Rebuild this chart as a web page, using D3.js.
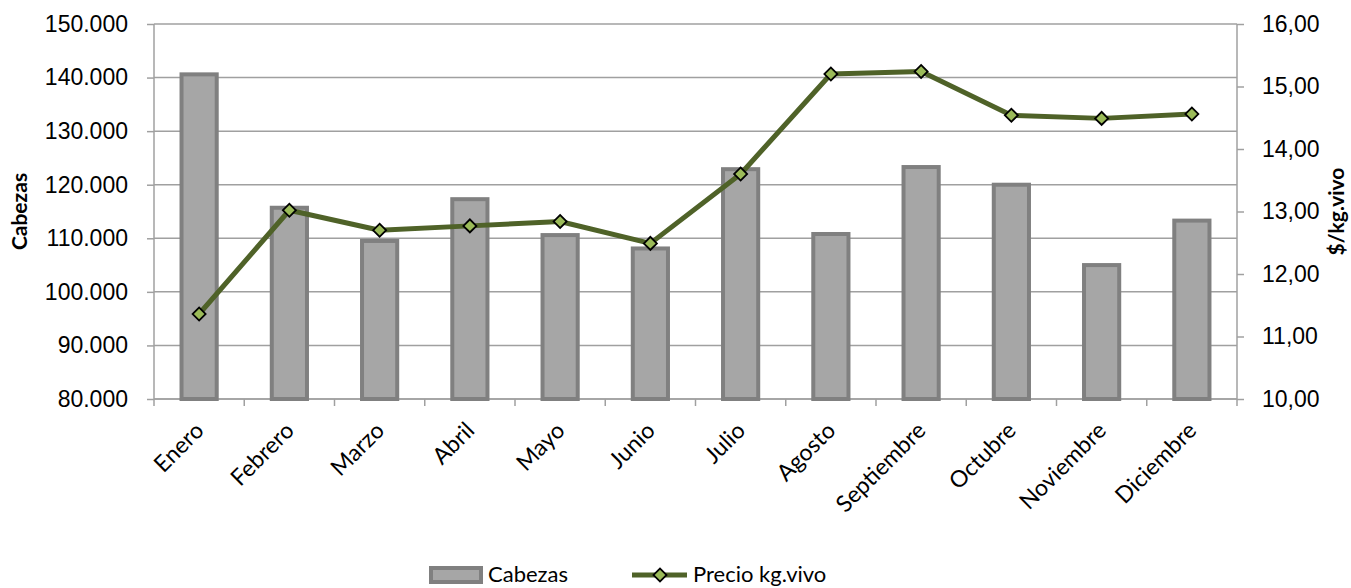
<!DOCTYPE html>
<html>
<head>
<meta charset="utf-8">
<script src="https://cdn.jsdelivr.net/npm/d3@7"></script>
<style>
  body { margin: 0; background: #fff; }
  svg { font-family: Lato, "Open Sans", sans-serif; }
</style>
</head>
<body>
<div id="chart"></div>
<script>
// Data
const months = ['Enero', 'Febrero', 'Marzo', 'Abril', 'Mayo', 'Junio',
  'Julio', 'Agosto', 'Septiembre', 'Octubre', 'Noviembre', 'Diciembre'];
const cabezas = [140600, 115700, 109500, 117300, 110600, 108100,
  122900, 110800, 123300, 120000, 105000, 113300];
const precio = [11.36, 13.02, 12.70, 12.77, 12.84, 12.49,
  13.60, 15.20, 15.24, 14.54, 14.49, 14.56];
const leftTicks = [80000, 90000, 100000, 110000, 120000, 130000, 140000, 150000];
const rightTicks = [10, 11, 12, 13, 14, 15, 16];

// Base positioning
const W = 1351, H = 588;
const margin = { top: 24, bottom: 189, left: 154, right: 114 },
  width = W - margin.left - margin.right,
  height = H - margin.top - margin.bottom;

const locale = d3.formatLocale({ decimal: ',', thousands: '.', grouping: [3], currency: ['$', ''] });
const fmtLeft = locale.format(',.0f');
const fmtRight = locale.format('.2f');

const gridColor = '#a0a0a0';

const svg = d3.select('#chart')
  .append('svg')
  .attr('width', W)
  .attr('height', H);

const g = svg.append('g')
  .attr('transform', 'translate(' + margin.left + ',' + margin.top + ')');

// scales
const x = d3.scaleBand()
  .domain(months)
  .range([0, width])
  .paddingInner(0.61)
  .paddingOuter(0.305);

const y = d3.scaleLinear()
  .domain([80000, 150000])
  .range([height, 0]);

const y2 = d3.scaleLinear()
  .domain([10, 16])
  .range([height, 0]);

// gridlines
g.append('g')
  .selectAll('line')
  .data(leftTicks)
  .enter()
  .append('line')
  .attr('x1', 0)
  .attr('x2', width)
  .attr('y1', d => y(d))
  .attr('y2', d => y(d))
  .attr('stroke', gridColor)
  .attr('stroke-width', 1.5);

// Y axis left
const yAxis = g.append('g')
  .call(d3.axisLeft(y).tickValues(leftTicks).tickFormat(fmtLeft).tickSize(7).tickPadding(19));
yAxis.select('.domain').remove();
yAxis.append('line')
  .attr('x1', 0).attr('x2', 0).attr('y1', 0).attr('y2', height + 7)
  .attr('stroke', gridColor).attr('stroke-width', 1.5);

// Y axis right
const yAxis2 = g.append('g')
  .attr('transform', 'translate(' + width + ',0)')
  .call(d3.axisRight(y2).tickValues(rightTicks).tickFormat(fmtRight).tickSize(7).tickPadding(18));
yAxis2.select('.domain').remove();
yAxis2.append('line')
  .attr('x1', 0).attr('x2', 0).attr('y1', 0).attr('y2', height + 7)
  .attr('stroke', gridColor).attr('stroke-width', 1.5);

[yAxis, yAxis2].forEach(a => {
  a.selectAll('.tick line').attr('stroke', gridColor).attr('stroke-width', 1.5);
  a.selectAll('.tick text').attr('fill', '#000').style('font-size', '23px');
});

// X axis
g.append('line')
  .attr('x1', 0).attr('x2', width).attr('y1', height).attr('y2', height)
  .attr('stroke', gridColor).attr('stroke-width', 1.5);
g.append('g')
  .selectAll('line')
  .data(months.slice(1))
  .enter()
  .append('line')
  .attr('x1', d => x(d) - x.step() * x.paddingInner() / 2)
  .attr('x2', d => x(d) - x.step() * x.paddingInner() / 2)
  .attr('y1', height)
  .attr('y2', height + 7)
  .attr('stroke', gridColor)
  .attr('stroke-width', 1.5);

g.append('g')
  .selectAll('text')
  .data(months)
  .enter()
  .append('text')
  .attr('transform', d => 'translate(' + (x(d) + x.bandwidth() / 2 + 6) + ',' + (height + 33) + ') rotate(-45)')
  .attr('text-anchor', 'end')
  .style('font-size', '23px')
  .text(d => d);

// bars
g.selectAll('.bar')
  .data(months)
  .enter()
  .append('rect')
  .attr('class', 'bar')
  .attr('x', d => x(d))
  .attr('width', x.bandwidth())
  .attr('y', (d, i) => y(cabezas[i]))
  .attr('height', (d, i) => height - y(cabezas[i]))
  .attr('fill', '#a6a6a6')
  .attr('stroke', '#808080')
  .attr('stroke-width', 4);

// line
const line = d3.line()
  .x((d, i) => x(months[i]) + x.bandwidth() / 2)
  .y(d => y2(d));
g.append('path')
  .datum(precio)
  .attr('fill', 'none')
  .attr('stroke', '#4f6228')
  .attr('stroke-width', 5)
  .attr('stroke-linejoin', 'round')
  .attr('d', line);

const diamond = d3.symbol().type(d3.symbolSquare).size(85);
g.selectAll('.marker')
  .data(precio)
  .enter()
  .append('path')
  .attr('class', 'marker')
  .attr('d', diamond)
  .attr('transform', (d, i) => 'translate(' + (x(months[i]) + x.bandwidth() / 2) + ',' + y2(d) + ') rotate(45)')
  .attr('fill', '#9bbb59')
  .attr('stroke', '#000')
  .attr('stroke-width', 1.8);

// axis titles
svg.append('text')
  .attr('transform', 'translate(27,' + (margin.top + height / 2) + ') rotate(-90)')
  .attr('text-anchor', 'middle')
  .style('font-size', '21px')
  .style('font-weight', 'bold')
  .text('Cabezas');

svg.append('text')
  .attr('transform', 'translate(1344,' + (margin.top + height / 2) + ') rotate(-90)')
  .attr('text-anchor', 'middle')
  .style('font-size', '21px')
  .style('font-weight', 'bold')
  .text('$/kg.vivo');

// legend
const legend = svg.append('g');
legend.append('rect')
  .attr('x', 431).attr('y', 568).attr('width', 50).attr('height', 14)
  .attr('fill', '#a6a6a6').attr('stroke', '#808080').attr('stroke-width', 4);
legend.append('text')
  .attr('x', 488).attr('y', 582)
  .style('font-size', '22px')
  .text('Cabezas');
legend.append('line')
  .attr('x1', 632).attr('x2', 687).attr('y1', 575).attr('y2', 575)
  .attr('stroke', '#4f6228').attr('stroke-width', 5);
legend.append('path')
  .attr('d', diamond)
  .attr('transform', 'translate(660,575) rotate(45)')
  .attr('fill', '#9bbb59').attr('stroke', '#000').attr('stroke-width', 1.8);
legend.append('text')
  .attr('x', 693).attr('y', 582)
  .style('font-size', '22px')
  .text('Precio kg.vivo');
</script>
</body>
</html>
